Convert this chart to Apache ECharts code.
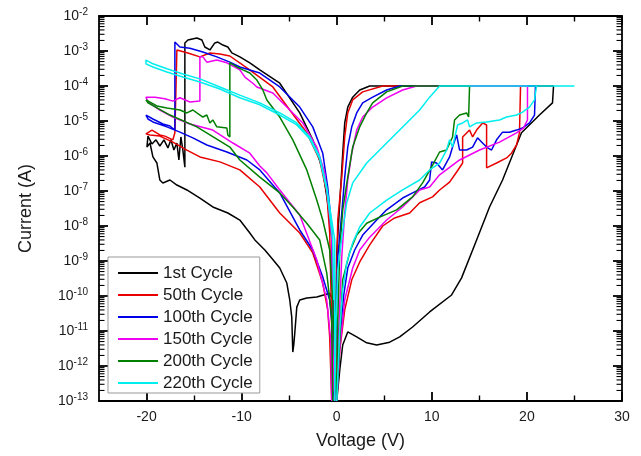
<!DOCTYPE html>
<html><head><meta charset="utf-8">
<script src="https://cdn.jsdelivr.net/npm/echarts@6/dist/echarts.min.js"></script>
<style>html,body{margin:0;padding:0;background:#fff}#c{width:641px;height:456px}</style>
</head><body><div id="c"></div>
<script>
const cycleNames = ['1st Cycle', '50th Cycle', '100th Cycle', '150th Cycle', '200th Cycle', '220th Cycle'];
const cycleColors = ['#000000', '#e80000', '#0000e8', '#f000f0', '#007f00', '#00eeee'];

// [Voltage (V), Current (A)]
const cycle1 = [[0.0,1e-13],[0.32,7.7e-13],[0.63,4.0e-12],[1.16,9.4e-12],[2.1,6.8e-12],[3.15,4.6e-12],[4.2,4.0e-12],[5.57,4.8e-12],[6.62,6.8e-12],[7.98,1.3e-11],[9.77,3.5e-11],[12.08,1.07e-10],[13.13,3.3e-10],[14.71,4.0e-9],[16.07,3.5e-8],[17.44,2.06e-7],[19.43,4.6e-6],[21.32,1.48e-5],[22.69,3.3e-5],[22.8,1e-4],[3.47,1e-4],[2.42,7.7e-5],[1.68,4.8e-5],[1.16,2.5e-5],[0.84,8.8e-6],[0.63,1.2e-6],[0.32,4.6e-8],[0.0,1.7e-9],[-0.1,2.06e-11],[-0.15,1e-13],[-0.31,1.48e-12],[-0.42,1.48e-10],[-0.53,4.8e-9],[-0.95,4.6e-8],[-1.47,4.0e-7],[-2.52,2.9e-6],[-3.89,1.7e-5],[-5.99,1.2e-4],[-8.09,2.9e-4],[-9.14,4.6e-4],[-10.19,6.8e-4],[-11.03,8.8e-4],[-11.45,1.3e-3],[-11.97,1.48e-3],[-12.5,1.8e-3],[-12.82,1.7e-3],[-13.34,1.07e-3],[-13.87,1.3e-3],[-14.18,2.06e-3],[-14.71,2.35e-3],[-15.65,2.06e-3],[-15.97,1.7e-3],[-15.97,4.8e-7],[-16.18,1.48e-6],[-16.39,3.5e-6],[-16.6,7.7e-7],[-16.81,2.35e-6],[-17.12,1.48e-6],[-17.44,2.9e-6],[-17.75,1.7e-6],[-18.17,2.9e-6],[-18.6,1.93e-6],[-19.01,2.9e-6],[-19.43,2.2e-6],[-19.85,3.7e-6],[-20.06,4.0e-6],[-19.96,1.8e-6],[-19.64,2.35e-6],[-19.33,9.4e-7],[-18.91,6.3e-7],[-18.6,2.06e-7],[-18.28,1.7e-7],[-17.54,2.06e-7],[-16.81,1.48e-7],[-15.76,1.07e-7],[-14.39,6.3e-8],[-13.03,3.5e-8],[-11.45,2.35e-8],[-10.19,1.48e-8],[-9.14,6.3e-9],[-8.61,4.0e-9],[-7.56,2.06e-9],[-6.83,1.2e-9],[-5.99,6.3e-10],[-5.25,2.35e-10],[-4.94,7.7e-11],[-4.73,2.5e-11],[-4.62,2.5e-12],[-4.52,4.0e-12],[-4.41,8.8e-12],[-4.2,4.8e-11],[-3.89,7.7e-11],[-3.15,8.8e-11],[-2.1,9.4e-11],[-0.74,1.2e-10],[-0.42,7.7e-11]];

const cycle50 = [[0.0,1e-13],[0.32,2.9e-12],[0.84,4.0e-11],[1.58,2.9e-10],[2.42,9.4e-10],[3.47,2.9e-9],[4.83,1.0e-8],[6.09,1.7e-8],[7.67,2.35e-8],[8.72,4.6e-8],[10.08,6.8e-8],[10.82,1.07e-7],[11.87,1.8e-7],[12.61,3.5e-7],[13.24,6.3e-7],[13.24,3.5e-6],[13.97,5.5e-6],[14.29,3.5e-6],[14.71,5.5e-6],[15.34,8.8e-6],[15.76,7.7e-6],[15.76,4.6e-7],[16.81,6.3e-7],[17.86,8.8e-7],[18.38,1.2e-6],[18.91,2.06e-6],[19.22,4.6e-6],[19.33,1e-4],[4.83,1e-4],[2.73,6.8e-5],[1.68,4.0e-5],[1.16,1.7e-5],[0.84,3.5e-6],[0.53,2.5e-7],[0.11,1.48e-8],[0.0,5.5e-10],[-0.1,1e-13],[-0.42,4.0e-13],[-0.63,2.9e-10],[-0.74,6.3e-9],[-1.05,8.8e-8],[-1.79,7.7e-7],[-3.15,4.6e-6],[-4.94,2.06e-5],[-6.72,9.4e-5],[-9.45,3.3e-4],[-11.24,7.2e-4],[-12.29,8.2e-4],[-13.34,8.8e-4],[-14.39,6.8e-4],[-15.65,8.8e-4],[-16.81,1.07e-3],[-17.02,9.4e-4],[-17.02,4.6e-6],[-17.23,2.9e-6],[-18.07,3.7e-6],[-18.6,4.0e-6],[-19.43,5.5e-6],[-20.06,4.3e-6],[-19.64,4.0e-6],[-18.6,3.7e-6],[-17.23,2.5e-6],[-15.76,1.48e-6],[-14.39,9.4e-7],[-12.29,6.8e-7],[-10.19,4.0e-7],[-8.09,1.3e-7],[-5.99,2.35e-8],[-3.89,6.3e-9],[-2.52,1.7e-9],[-1.47,2.35e-10],[-0.95,4.0e-11],[-0.74,6.8e-12],[-0.53,1e-13]];

const cycle100 = [[0.0,1e-13],[0.32,5.5e-12],[0.74,1.07e-10],[1.16,6.3e-10],[1.89,2.06e-9],[2.73,5.5e-9],[4.2,1.48e-8],[5.25,2.9e-8],[6.93,6.3e-8],[7.98,8.8e-8],[9.24,1.3e-7],[9.77,2.06e-7],[9.98,6.8e-7],[10.5,6.3e-7],[11.13,4.0e-7],[11.87,9.4e-7],[12.18,1.8e-6],[12.61,4.0e-6],[12.92,1.48e-6],[13.66,1.48e-6],[14.29,1.8e-6],[14.81,3.3e-6],[15.23,2.5e-6],[15.76,1.8e-6],[16.28,1.48e-6],[16.81,2.9e-6],[17.44,4.8e-6],[18.17,4.8e-6],[18.91,5.5e-6],[19.54,6.3e-6],[20.27,8.8e-6],[20.8,1.48e-5],[20.9,1e-4],[6.62,1e-4],[5.25,7.7e-5],[3.78,4.8e-5],[2.73,3.3e-5],[2.1,1.7e-5],[1.58,6.8e-6],[1.16,1.8e-6],[0.84,2.5e-7],[0.53,2.35e-8],[0.11,1.3e-9],[-0.1,1.07e-11],[-0.21,1e-13],[-0.31,4.0e-13],[-0.42,1.48e-10],[-0.53,9.4e-9],[-0.95,1.3e-7],[-1.47,1.2e-6],[-2.52,6.8e-6],[-3.89,2.5e-5],[-5.99,9.4e-5],[-8.09,2.35e-4],[-10.19,3.5e-4],[-11.24,4.8e-4],[-12.61,6.8e-4],[-14.08,9.4e-4],[-15.44,1.2e-3],[-16.49,1.3e-3],[-17.02,1.8e-3],[-17.02,5.5e-6],[-17.54,7.2e-6],[-18.28,8.2e-6],[-19.33,1.14e-5],[-20.06,1.48e-5],[-19.85,1.14e-5],[-19.33,9.4e-6],[-17.86,6.8e-6],[-16.49,4.8e-6],[-15.13,3.3e-6],[-13.66,2.06e-6],[-11.55,1.3e-6],[-9.45,7.7e-7],[-8.09,4.0e-7],[-5.99,8.8e-8],[-3.89,7.7e-9],[-2.52,2.06e-9],[-1.47,3.5e-10],[-0.74,7.7e-11],[-0.42,8.8e-12],[-0.42,1e-13]];

const cycle150 = [[0.0,1e-13],[0.32,2.9e-12],[0.84,7.7e-11],[1.68,6.3e-10],[2.42,2.06e-9],[3.47,4.8e-9],[5.25,1.48e-8],[6.93,3.5e-8],[8.72,1.07e-7],[9.77,1.3e-7],[10.82,2.9e-7],[12.92,7.7e-7],[15.02,1.48e-6],[17.12,2.5e-6],[18.91,4.6e-6],[19.64,6.3e-6],[20.06,1.07e-5],[20.06,1e-4],[8.4,1e-4],[6.93,7.7e-5],[5.25,4.6e-5],[3.78,2.5e-5],[2.73,1.3e-5],[2.1,5.5e-6],[1.58,1.2e-6],[1.16,2.06e-7],[0.84,2.35e-8],[0.53,1.3e-9],[0.21,1.07e-11],[0.0,1e-13],[-0.31,2.06e-13],[-0.42,7.7e-11],[-0.53,4.8e-9],[-0.84,3.5e-8],[-1.26,3.3e-7],[-2.1,1.8e-6],[-3.57,8.8e-6],[-5.25,2.5e-5],[-6.72,6.3e-5],[-8.4,9.4e-5],[-8.82,1.2e-4],[-9.66,1.8e-4],[-10.19,2.9e-4],[-11.55,4.6e-4],[-12.61,5.5e-4],[-13.66,4.8e-4],[-14.08,6.8e-4],[-14.39,6.8e-4],[-14.39,3.7e-5],[-15.44,3.5e-5],[-16.49,4.6e-5],[-17.23,3.7e-5],[-18.07,4.3e-5],[-19.12,4.8e-5],[-20.06,4.8e-5],[-19.85,3.5e-5],[-18.6,2.06e-5],[-17.23,1.3e-5],[-15.44,8.2e-6],[-13.03,5.5e-6],[-10.92,2.35e-6],[-9.14,1.2e-6],[-8.09,5.2e-7],[-7.35,3.3e-7],[-5.99,1.07e-7],[-3.89,2.06e-8],[-2.1,1.07e-9],[-1.05,7.7e-11],[-0.63,5.5e-12],[-0.53,1e-13]];

const cycle200 = [[0.0,1e-13],[0.32,5.5e-12],[0.63,2.9e-10],[1.37,1.8e-9],[2.1,5.5e-9],[3.15,1.2e-8],[4.52,1.8e-8],[6.3,2.9e-8],[7.98,6.8e-8],[9.03,1.7e-7],[10.08,5.5e-7],[10.82,1.3e-6],[11.55,1.48e-6],[12.18,3.5e-6],[12.39,1.07e-5],[12.92,1.48e-5],[13.66,1.7e-5],[13.87,1.3e-5],[13.97,1e-4],[6.93,1e-4],[5.25,6.8e-5],[3.78,3.3e-5],[3.15,1.7e-5],[2.42,6.8e-6],[1.68,1.8e-6],[1.16,2.5e-7],[0.63,2.9e-8],[0.32,2.06e-9],[0.11,2.06e-11],[0.0,1e-13],[-0.21,1.48e-12],[-0.42,7.7e-11],[-0.74,2.06e-9],[-1.47,1.48e-8],[-2.1,5.5e-8],[-3.15,4.0e-7],[-4.62,2.9e-6],[-5.99,1.3e-5],[-7.35,4.0e-5],[-7.77,7.7e-5],[-8.4,1.48e-4],[-9.14,2.35e-4],[-9.87,2.9e-4],[-10.5,3.5e-4],[-11.24,4.6e-4],[-11.24,3.5e-6],[-11.45,4.0e-6],[-11.55,6.3e-6],[-12.61,6.8e-6],[-13.03,1.07e-5],[-13.34,8.8e-6],[-13.66,1.48e-5],[-14.08,1.3e-5],[-14.71,1.7e-5],[-15.13,2.06e-5],[-15.76,1.7e-5],[-16.49,2.06e-5],[-17.86,2.35e-5],[-18.91,2.7e-5],[-20.06,4.0e-5],[-19.85,3.3e-5],[-17.54,1.48e-5],[-14.71,6.8e-6],[-11.24,1.8e-6],[-10.19,7.7e-7],[-8.09,2.5e-7],[-5.99,8.8e-8],[-4.62,3.5e-8],[-3.15,1.2e-8],[-1.79,4.0e-9],[-1.05,4.6e-10],[-0.53,2.5e-11],[-0.42,1e-13]];

const cycle220 = [[0.0,1e-13],[0.32,1.07e-11],[0.63,1.48e-10],[1.05,8.8e-10],[1.68,3.3e-9],[2.42,9.4e-9],[3.47,2.35e-8],[5.25,5.5e-8],[6.93,1.07e-7],[8.72,2.06e-7],[9.77,4.0e-7],[10.82,6.3e-7],[11.55,1.48e-6],[11.87,2.9e-6],[12.18,1.8e-6],[12.71,7.7e-6],[13.24,8.8e-6],[13.76,1.07e-5],[13.97,6.8e-6],[14.71,8.8e-6],[15.76,9.4e-6],[17.12,1.07e-5],[17.86,1.3e-5],[18.91,1.48e-5],[19.54,1.8e-5],[20.27,2.5e-5],[20.8,4.0e-5],[21.01,1e-4],[25.0,1e-4],[10.82,1e-4],[9.77,4.8e-5],[8.72,2.06e-5],[6.62,5.5e-6],[4.83,1.8e-6],[3.15,6.3e-7],[1.68,1.7e-7],[1.05,4.6e-8],[0.53,4.8e-9],[0.11,5.5e-10],[-0.1,1.07e-11],[-0.21,1e-13],[-0.21,1.8e-12],[-0.21,4.0e-9],[-0.53,1.48e-8],[-1.05,1.3e-7],[-1.79,9.4e-7],[-2.84,3.5e-6],[-4.2,8.8e-6],[-5.99,1.7e-5],[-8.09,3.3e-5],[-10.19,5.5e-5],[-12.29,9.4e-5],[-14.39,1.6e-4],[-16.18,2.2e-4],[-17.86,3.1e-4],[-19.33,4.3e-4],[-20.06,5.5e-4],[-20.06,4.3e-4],[-19.33,3.5e-4],[-17.86,2.5e-4],[-16.18,1.8e-4],[-14.39,1.3e-4],[-12.29,8.2e-5],[-10.19,4.6e-5],[-8.09,2.9e-5],[-5.99,1.48e-5],[-4.2,7.7e-6],[-2.84,3.1e-6],[-1.79,8.2e-7],[-1.05,1.07e-7],[-0.42,4.0e-9],[-0.31,7.7e-11]];

const cycleData = [cycle1, cycle50, cycle100, cycle150, cycle200, cycle220];

const xMin = -25, xMax = 30, xStep = 5;
const xMajorTicks = [-20, -10, 0, 10, 20, 30];
const xMinorTicks = [-15, -5, 5, 15, 25];
const yExponents = [-13, -12, -11, -10, -9, -8, -7, -6, -5, -4, -3, -2];
const yTickValues = [1e-13, 1e-12, 1e-11, 1e-10, 1e-9, 1e-8, 1e-7, 1e-6, 1e-5, 1e-4, 1e-3, 1e-2];
const yMin = 1e-13, yMax = 1e-2;
const yMinorMultipliers = [2, 3, 4, 5, 6, 7, 8, 9];

const yMinorTicks = [];
yTickValues.slice(0, -1).forEach(t => yMinorMultipliers.forEach(k => yMinorTicks.push(k * t)));

const FONT = 'Liberation Sans, Arial, sans-serif';
const axisLineStyle = { color: '#000', width: 1.8 };
const MAJOR_LEN = 9, MINOR_LEN = 5.5;

function xAxisBase(pos, ticks, len, width, showLine, showLabel) {
  return {
    type: 'value', position: pos, min: xMin, max: xMax, interval: xStep,
    axisLine: { show: showLine, onZero: false, lineStyle: axisLineStyle },
    axisTick: { show: true, inside: true, length: len, customValues: ticks, lineStyle: { color: '#000', width: width } },
    axisLabel: { show: showLabel, customValues: xMajorTicks, margin: 9, fontSize: 14, fontFamily: FONT, color: '#1a1a1a' },
    splitLine: { show: false }
  };
}

const chart = echarts.init(document.getElementById('c'), null, { renderer: 'canvas' });
const series = cycleData.map((d, i) => ({
  name: cycleNames[i], type: 'line', data: d, xAxisIndex: 0, yAxisIndex: 0,
  showSymbol: false, symbol: 'none', clip: true,
  lineStyle: { color: cycleColors[i], width: 1.5 }, itemStyle: { color: cycleColors[i] },
  z: 2 + i
}));
series.push({
  type: 'custom', xAxisIndex: 0, yAxisIndex: 0, silent: true, z: 20, clip: false,
  data: yMinorTicks.map(v => [xMin, v]),
  renderItem: (params, api) => {
    const pt = api.coord([api.value(0), api.value(1)]);
    const cs = params.coordSys;
    return { type: 'group', children: [
      { type: 'line', shape: { x1: cs.x, y1: pt[1], x2: cs.x + MINOR_LEN, y2: pt[1] }, style: { stroke: '#000', lineWidth: 1.1 } },
      { type: 'line', shape: { x1: cs.x + cs.width, y1: pt[1], x2: cs.x + cs.width - MINOR_LEN, y2: pt[1] }, style: { stroke: '#000', lineWidth: 1.1 } }
    ] };
  }
});

const yAxisCommon = {
  type: 'log', logBase: 10, min: yMin, max: yMax,
  axisLine: { show: true, onZero: false, lineStyle: axisLineStyle },
  axisTick: { show: true, inside: true, length: MAJOR_LEN, customValues: yTickValues, lineStyle: { color: '#000', width: 1.8 } },
  splitLine: { show: false }, minorTick: { show: false }
};

chart.setOption({
  animation: false,
  backgroundColor: '#fff',
  grid: { left: 99, right: 19, top: 16, bottom: 55, containLabel: false },
  xAxis: [
    Object.assign(xAxisBase('bottom', xMajorTicks, MAJOR_LEN, 1.8, true, true), {
      name: 'Voltage (V)', nameLocation: 'middle', nameGap: 31,
      nameTextStyle: { fontSize: 18, fontFamily: FONT, color: '#1a1a1a' }
    }),
    xAxisBase('bottom', xMinorTicks, MINOR_LEN, 1.4, false, false),
    xAxisBase('top', xMajorTicks, MAJOR_LEN, 1.8, true, false),
    xAxisBase('top', xMinorTicks, MINOR_LEN, 1.4, false, false)
  ],
  yAxis: [
    Object.assign({}, yAxisCommon, {
      position: 'left',
      name: 'Current (A)', nameLocation: 'middle', nameGap: 64,
      nameTextStyle: { fontSize: 18, fontFamily: FONT, color: '#1a1a1a' },
      axisLabel: {
        margin: 11, fontFamily: FONT, color: '#1a1a1a', customValues: yTickValues, hideOverlap: false,
        formatter: v => {
          const idx = yTickValues.findIndex(t => Math.abs(Math.log10(v) - Math.log10(t)) < 0.01);
          return idx >= 0 ? '{b|10}{s|' + yExponents[idx] + '}' : '';
        },
        rich: {
          b: { fontSize: 14, fontFamily: FONT, color: '#1a1a1a' },
          s: { fontSize: 10, fontFamily: FONT, color: '#1a1a1a', padding: [0, 0, 8, 0] }
        }
      }
    }),
    Object.assign({}, yAxisCommon, { position: 'right', axisLabel: { show: false } })
  ],
  legend: {
    data: cycleNames, orient: 'vertical', left: 108, top: 257,
    padding: [7, 7, 1, 10], itemGap: 4, itemWidth: 40, itemHeight: 2, icon: 'rect',
    borderColor: '#999', borderWidth: 1, backgroundColor: '#fff',
    textStyle: { fontSize: 17, lineHeight: 18, fontFamily: FONT, color: '#1a1a1a', padding: [0, 0, 0, 0] },
    selectedMode: false, z: 30
  },
  series: series
});
</script></body></html>
